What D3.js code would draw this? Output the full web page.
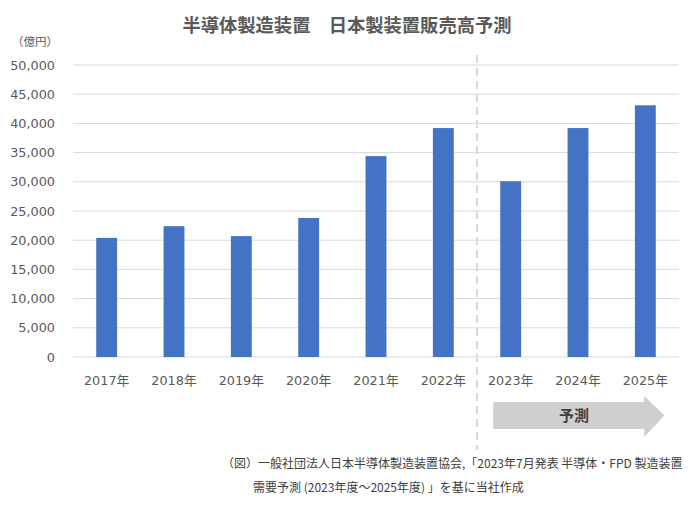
<!DOCTYPE html>
<html><head><meta charset="utf-8">
<script src="https://cdn.jsdelivr.net/npm/d3@7"></script>
<style>body{margin:0;background:#fff}svg{display:block}</style>
</head><body>
<svg id="c" width="696" height="505"></svg>
<script>
const categories = ["2017年","2018年","2019年","2020年","2021年","2022年","2023年","2024年","2025年"];
const values = [20400, 22400, 20700, 23800, 34400, 39200, 30100, 39200, 43100];
const yTicks = [0,5000,10000,15000,20000,25000,30000,35000,40000,45000,50000];
const title = "半導体製造装置　日本製装置販売高予測";
const unitLabel = "（億円）";
const forecastLabel = "予測";
const firstForecast = "2023年";
const notes = ["（図）一般社団法人日本半導体製造装置協会,「2023年7月発表 半導体・FPD 製造装置","需要予測 (2023年度～2025年度) 」を基に当社作成"];

const cjkFont = '"Noto Sans CJK JP","Noto Sans",sans-serif';
const numFont = '"DejaVu Sans","Noto Sans CJK JP",sans-serif';
const svg = d3.select("#c").style("font-family", cjkFont);
const x = d3.scaleBand().domain(categories).range([73, 679]).paddingInner(0.69).paddingOuter(0.345);
const y = d3.scaleLinear().domain([0, 50000]).range([357, 65]);

svg.append("g").selectAll("line").data(yTicks).join("line")
  .attr("x1", 73).attr("x2", 679).attr("y1", d => y(d)).attr("y2", d => y(d))
  .attr("stroke", "#d9d9d9").attr("stroke-width", 1);

svg.append("g").selectAll("text").data(yTicks).join("text")
  .attr("x", 55).attr("y", d => y(d) + 4.5).attr("text-anchor", "end")
  .style("font-family", numFont).attr("font-size", 12.8).attr("fill", "#595959").text(d => d3.format(",")(d));

svg.append("text").attr("x", 12).attr("y", 46).attr("font-size", 11.5).attr("fill", "#595959").text(unitLabel);

svg.append("g").selectAll("rect").data(values).join("rect")
  .attr("x", (d, i) => x(categories[i])).attr("width", x.bandwidth())
  .attr("y", d => y(d)).attr("height", d => y(0) - y(d)).attr("fill", "#4472c4");

svg.append("g").selectAll("text").data(categories).join("text")
  .attr("x", d => x(d) + x.bandwidth() / 2).attr("y", 385).attr("text-anchor", "middle")
  .style("font-family", numFont).attr("font-size", 12.8).attr("fill", "#595959").text(d => d);

// divider
const divX = x(firstForecast) - x.step() * x.paddingInner() / 2;
svg.append("line").attr("x1", divX).attr("x2", divX).attr("y1", 55).attr("y2", 450)
  .attr("stroke", "#d9d9d9").attr("stroke-width", 2).attr("stroke-dasharray", "8,5");

// arrow
const ax0 = x(firstForecast) - 7, ax1 = x("2025年") + x.bandwidth() / 2 - 1, tip = ax1 + 20;
const ay0 = 402, ay1 = 429, hy0 = 396, hy1 = 437, am = (ay0 + ay1) / 2;
svg.append("path").attr("d", `M${ax0},${ay0}L${ax1},${ay0}L${ax1},${hy0}L${tip},${am}L${ax1},${hy1}L${ax1},${ay1}L${ax0},${ay1}Z`)
  .attr("fill", "#d0cece");
svg.append("text").attr("x", x("2024年") + x.bandwidth() / 2 - 4).attr("y", am + 5.5).attr("text-anchor", "middle")
  .attr("font-size", 15).attr("font-weight", "bold").attr("fill", "#404040").text(forecastLabel);

svg.append("text").attr("x", 347).attr("y", 32).attr("text-anchor", "middle")
  .attr("font-size", 18.3).attr("font-weight", "bold").attr("fill", "#595959").text(title);

svg.append("text").attr("x", 222).attr("y", 468).attr("font-size", 12).attr("fill", "#404040").text(notes[0]);
svg.append("text").attr("x", 253).attr("y", 492).attr("font-size", 12).attr("fill", "#404040").text(notes[1]);
</script>
</body></html>
